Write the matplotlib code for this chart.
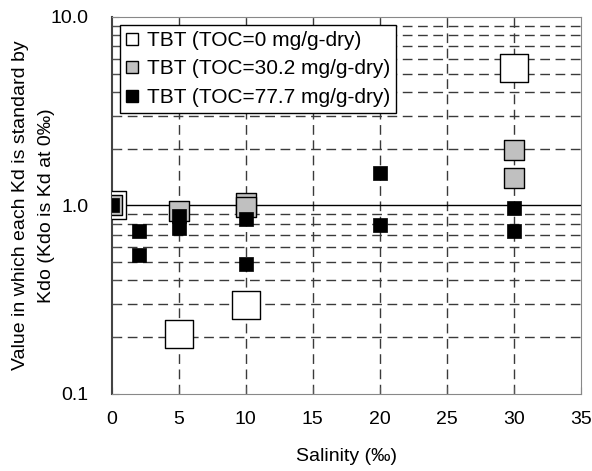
import matplotlib
matplotlib.use("Agg")
import matplotlib.pyplot as plt
from matplotlib.ticker import FixedLocator, NullFormatter

plt.rcParams["font.family"] = ["Liberation Sans", "DejaVu Sans"]

# TOC = 0 mg/g-dry
sal_0 = [0, 5, 10, 30]
kd_0 = [1.0, 0.208, 0.296, 5.36]

# TOC = 30.2 mg/g-dry
sal_30 = [0, 5, 10, 10, 30, 30]
kd_30 = [1.0, 0.93, 1.03, 0.98, 1.97, 1.40]

# TOC = 77.7 mg/g-dry
sal_77 = [0, 2, 2, 5, 5, 10, 10, 20, 20, 30, 30]
kd_77 = [1.0, 0.73, 0.546, 0.88, 0.76, 0.85, 0.49, 1.49, 0.79, 0.97, 0.73]

labels = ["TBT (TOC=0 mg/g-dry)", "TBT (TOC=30.2 mg/g-dry)", "TBT (TOC=77.7 mg/g-dry)"]

fig = plt.figure(figsize=(5.92, 4.71), dpi=100)
ax = fig.add_axes([0.189, 0.1635, 0.792, 0.8005])

ax.set_yscale("log")
ax.set_xlim(0, 35)
ax.set_ylim(0.1, 10)

# grid
minor_y = [0.2, 0.3, 0.4, 0.5, 0.6, 0.7, 0.8, 0.9, 2, 3, 4, 5, 6, 7, 8, 9]
for y in minor_y:
    ax.axhline(y, color="#3a3a3a", lw=1.0, ls=(0, (7, 4)), zorder=1)
for x in range(5, 35, 5):
    ax.axvline(x, color="#3a3a3a", lw=1.0, ls=(0, (7, 4)), zorder=1)
ax.axhline(1.0, color="black", lw=1.0, zorder=1)

ax.scatter(sal_0, kd_0, marker="s", s=27 ** 2 * 0.52, facecolor="white",
           edgecolor="black", lw=1.0, zorder=3, label=labels[0])
ax.scatter(sal_30, kd_30, marker="s", s=19 ** 2 * 0.52, facecolor="#c0c0c0",
           edgecolor="black", lw=1.0, zorder=4, label=labels[1])
ax.scatter(sal_77, kd_77, marker="s", s=14 ** 2 * 0.52, facecolor="black",
           edgecolor="black", lw=0.5, zorder=5, label=labels[2])

ax.xaxis.set_major_locator(FixedLocator(range(0, 40, 5)))
ax.yaxis.set_major_locator(FixedLocator([0.1, 1.0, 10.0]))
ax.set_yticklabels(["0.1", "1.0", "10.0"])
ax.yaxis.set_minor_locator(FixedLocator(minor_y))
ax.yaxis.set_minor_formatter(NullFormatter())
ax.tick_params(axis="both", which="both", direction="in", labelsize=14,
               color="#555555")
ax.tick_params(axis="x", which="major", length=5, pad=12)
ax.tick_params(axis="y", which="major", length=5, pad=17)
ax.tick_params(axis="y", which="minor", length=5)
ax.tick_params(top=False, right=False)

for side in ["top", "right", "bottom"]:
    ax.spines[side].set_color("#888888")
ax.spines["left"].set_color("#444444")
ax.spines["left"].set_linewidth(1.5)

ax.set_xlabel("Salinity (‰)", fontsize=14, labelpad=15)
ax.set_ylabel("Value in which each Kd is standard by\nKdo (Kdo is Kd at 0‰)",
              fontsize=14, linespacing=1.7, va="center", ha="center")
ax.yaxis.set_label_coords(-0.168, 0.5)

# legend with small markers
handles = [
    plt.Line2D([], [], marker="s", ls="none", ms=8, mfc="white", mec="black", mew=1.0),
    plt.Line2D([], [], marker="s", ls="none", ms=8, mfc="#c0c0c0", mec="black", mew=1.0),
    plt.Line2D([], [], marker="s", ls="none", ms=8, mfc="black", mec="black", mew=1.0),
]
leg = ax.legend(handles, labels, loc="upper left", bbox_to_anchor=(0.017, 0.979),
                fontsize=15, frameon=True, fancybox=False, edgecolor="black",
                framealpha=1, handlelength=0.6, handletextpad=0.4,
                borderpad=0.3, labelspacing=0.45, borderaxespad=0)
leg.get_frame().set_linewidth(1.0)
leg.set_zorder(10)

fig.savefig("out.png", dpi=100)
